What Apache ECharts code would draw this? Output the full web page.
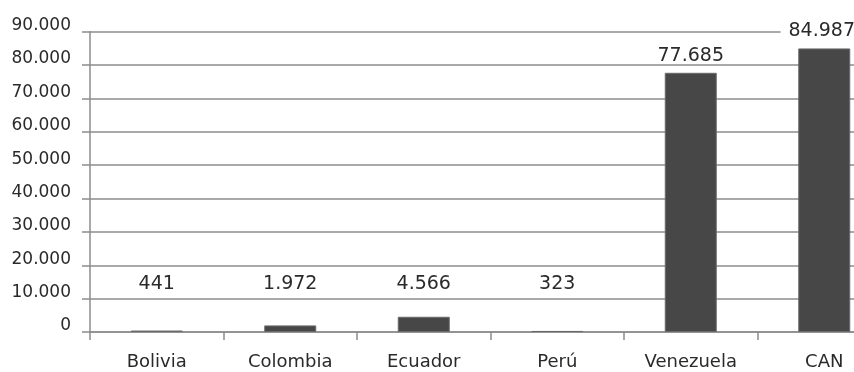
<!DOCTYPE html>
<html>
<head>
<meta charset="utf-8">
<script src="https://cdn.jsdelivr.net/npm/echarts@6/dist/echarts.min.js"></script>
<style>
html,body{margin:0;padding:0;background:#fff;}
#chart{width:854px;height:372px;}
</style>
</head>
<body>
<div id="chart"></div>
<script>
var categories = ['Bolivia', 'Colombia', 'Ecuador', 'Perú', 'Venezuela', 'CAN'];
var values = [441, 1972, 4566, 323, 77685, 84987];
var yMin = 0, yMax = 90000, yStep = 10000;

function fmt(v) {
  return String(v).replace(/\B(?=(\d{3})+(?!\d))/g, '.');
}

var FONT = 'DejaVu Sans';
var TXT = '#2a2a2a';

var seriesData = values.map(function (v, i) {
  var item = { value: v };
  if (v < yStep) {
    item.label = { position: 'insideBottom', distance: 5, offset: [0, -33] };
  } else {
    item.label = { position: 'top', distance: 7 };
    if (i === values.length - 1) {
      item.label.backgroundColor = '#fff';
      item.label.padding = [3, 3, 3, 8];
      item.label.distance = 5;
      item.label.offset = [-5, 0];
    }
  }
  return item;
});

var chart = echarts.init(document.getElementById('chart'), null, { renderer: 'canvas' });
chart.setOption({
  animation: false,
  backgroundColor: '#fff',
  grid: { left: 90, top: 31.7, bottom: 40, width: 801, containLabel: false, outerBoundsMode: 'none' },
  xAxis: {
    type: 'category',
    data: categories,
    boundaryGap: true,
    axisLine: { show: true, lineStyle: { color: '#8c8c8c', width: 1.5 } },
    axisTick: { show: true, length: 8, inside: false, lineStyle: { color: '#8c8c8c', width: 1.5 } },
    axisLabel: { color: TXT, fontFamily: FONT, fontSize: 18, margin: 21 },
    splitLine: { show: false }
  },
  yAxis: {
    type: 'value',
    min: yMin, max: yMax, interval: yStep,
    axisLine: { show: true, lineStyle: { color: '#8c8c8c', width: 1.5 } },
    axisTick: { show: true, length: 8, lineStyle: { color: '#8c8c8c', width: 1.5 } },
    axisLabel: {
      color: TXT, fontFamily: FONT, fontSize: 17, margin: 19,
      verticalAlign: 'bottom', lineHeight: 12,
      formatter: function (v) { return fmt(v); }
    },
    splitLine: { show: true, lineStyle: { color: '#8c8c8c', width: 1.5 } }
  },
  series: [{
    type: 'bar',
    data: seriesData,
    barWidth: 52,
    itemStyle: { color: '#474747', borderColor: '#6a6a6a', borderWidth: 1 },
    label: {
      show: true,
      color: TXT,
      fontFamily: FONT,
      fontSize: 19,
      formatter: function (p) { return fmt(p.value); }
    }
  }]
});
</script>
</body>
</html>
